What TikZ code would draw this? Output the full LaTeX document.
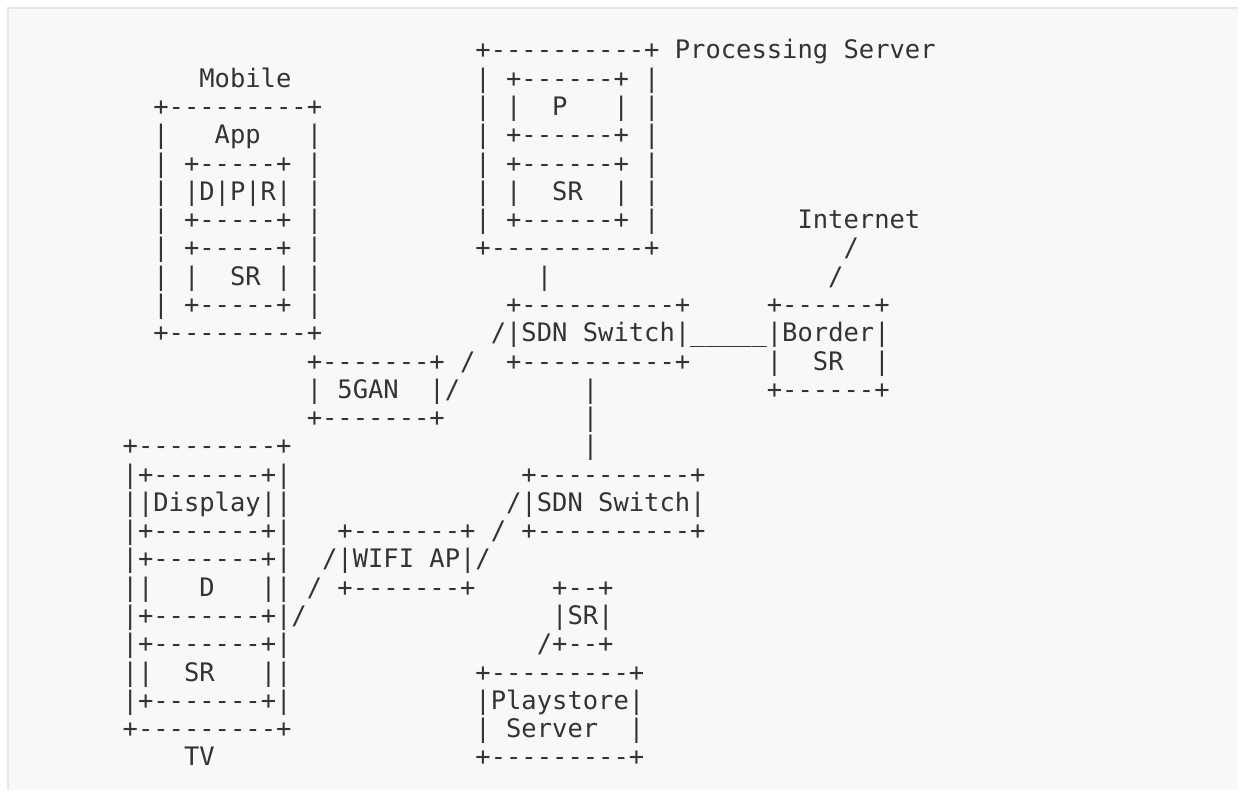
\documentclass[tikz,border=0pt]{standalone}
\usepackage{fontspec}
\newfontfamily\asciifont{DejaVu Sans Mono}[Ligatures=TeXOff]
\usepackage{tikz}
\definecolor{pagebg}{HTML}{F8F8F8}
\definecolor{rulegray}{HTML}{E6E6E6}
\definecolor{inkgray}{HTML}{333333}

\begin{document}
\begin{tikzpicture}[x=0.5pt, y=-0.5pt,
		ascii/.style={anchor=base west, inner sep=0pt, outer sep=0pt, text=inkgray,
				font=\asciifont\fontsize{12.75pt}{14.15pt}\selectfont}]

		% Page and block frame
		\fill[white] (0,0) rectangle (1239,791);
		\fill[pagebg] (8,8) rectangle (1239,791);
		\draw[rulegray, line width=1pt] (8,791) -- (8,8) -- (1239,8);

		\begin{scope}[shift={(122.8,59)}, x=7.675pt, y=-14.15pt]

			% Processing server
			\foreach \l [count=\i from 0] in {+----------+, | +------+ |, | |~~P~~~| |, | +------+ |,
					| +------+ |, | |~~SR~~| |, | +------+ |, +----------+}
				\node[ascii] (proc\i) at (23,\i) {\l};
			\node[ascii] (proclabel) at (36,0) {Processing Server};
			\node[ascii] (proclink) at (27,8) {|};

			% Mobile
			\node[ascii] (moblabel) at (5,1) {Mobile};
			\foreach \l [count=\i from 2] in {+---------+, |~~~App~~~|, | +-----+ |, | |D|P|R| |,
					| +-----+ |, | +-----+ |, | |~~SR | |, | +-----+ |, +---------+}
				\node[ascii] (mob\i) at (2,\i) {\l};

			% Internet and border SR
			\node[ascii] (inet) at (44,6) {Internet};
			\node[ascii] (inetlinkA) at (47,7) {/};
			\node[ascii] (inetlinkB) at (46,8) {/};
			\foreach \l [count=\i from 9] in {+------+, |Border|, |~~SR~~|, +------+}
				\node[ascii] (border\i) at (42,\i) {\l};

			% Core SDN switch
			\foreach \l [count=\i from 9] in {+----------+, |SDN Switch|, +----------+}
				\node[ascii] (sdnA\i) at (25,\i) {\l};
			\node[ascii] (borderlink) at (37,10) {\_\_\_\_\_};
			\foreach \i in {12,13,14}
				\node[ascii] (trunk\i) at (30,\i) {|};

			% 5GAN
			\foreach \l [count=\i from 11] in {+-------+, | 5GAN~~|, +-------+}
				\node[ascii] (gan\i) at (12,\i) {\l};
			\node[ascii] (ganlinkA) at (24,10) {/};
			\node[ascii] (ganlinkB) at (22,11) {/};
			\node[ascii] (ganlinkC) at (21,12) {/};

			% TV
			\foreach \l [count=\i from 14] in {+---------+, |+-------+|, ||Display||, |+-------+|,
					|+-------+|, ||~~~D~~~||, |+-------+|, |+-------+|, ||~~SR~~~||, |+-------+|, +---------+}
				\node[ascii] (tv\i) at (0,\i) {\l};
			\node[ascii] (tvlabel) at (4,25) {TV};

			% Access SDN switch
			\foreach \l [count=\i from 15] in {+----------+, |SDN Switch|, +----------+}
				\node[ascii] (sdnB\i) at (26,\i) {\l};
			\node[ascii] (wifilinkA) at (25,16) {/};
			\node[ascii] (wifilinkB) at (24,17) {/};
			\node[ascii] (wifilinkC) at (23,18) {/};

			% WIFI AP
			\foreach \l [count=\i from 17] in {+-------+, |WIFI AP|, +-------+}
				\node[ascii] (wifi\i) at (14,\i) {\l};
			\node[ascii] (tvlinkA) at (13,18) {/};
			\node[ascii] (tvlinkB) at (12,19) {/};
			\node[ascii] (tvlinkC) at (11,20) {/};

			% Playstore
			\foreach \l [count=\i from 19] in {+--+, |SR|, +--+}
				\node[ascii] (psr\i) at (28,\i) {\l};
			\node[ascii] (psrlink) at (27,21) {/};
			\foreach \l [count=\i from 22] in {+---------+, |Playstore|, | Server~~|, +---------+}
				\node[ascii] (store\i) at (23,\i) {\l};

		\end{scope}

	\end{tikzpicture}
\end{document}
